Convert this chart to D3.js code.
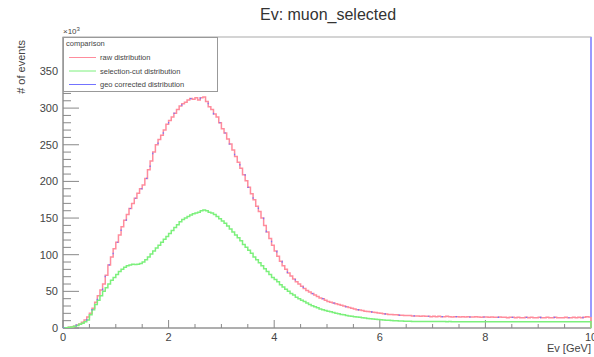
<!DOCTYPE html>
<html><head><meta charset="utf-8">
<script src="https://cdn.jsdelivr.net/npm/d3@7"></script>
<style>body{margin:0;background:#fff;}svg{display:block;font-family:"Liberation Sans",Arial,sans-serif;}</style>
</head><body><div id="chart"></div>
<script>
// bin lower edges 0.00 .. 9.95 (width 0.05 GeV), values in units of 10^3 events
const binEdges = d3.range(0, 200).map(i => +(i * 0.05).toFixed(2));
const rawValues = [
0.2,0.5,1,1.5,2.5,4,5.5,8,11,15,
20,27,35,44,52,60,72,86,97,108,
117,127,138,147,155,163,170,177,184,190,
195,204,216,228,240,250,257,263,270,278,
283,288,293,298,303,306,308,311,313,312,
314,311,314,315,309,302,298,292,288,280,
272,266,258,251,243,234,226,218,209,201,
192,183,175,166,159,150,140,131,122,113,
105,98,91,85,80,75,71,67,63,60,
57,54,51,49,47,45,43,41,40,38,
36,35,34,33,32,31,30,29,28,27,
26,25,24.5,24,23,22.5,22,21.5,21,20.5,
20,19.5,19,18.5,18.5,18,18,17.5,17.5,17,
17,17,16.5,16.5,16.5,16,16.5,16,16,15.5,
16,15.5,16,15.5,15.5,16,15.5,15,15.5,15.5,
15,15.5,15,15.5,15,15,15.5,15,14.5,15,
15,14.5,15,14.5,14.5,15,14.5,14.5,14,14.5,
14.5,14,14.5,14,14,14.5,14,14.5,14,14,
14.5,14,14,14.5,14,14,14.5,14,14,14,
14.5,14,14,14.5,14,14.5,14,14.5,15.5,15];
const selValues = [
0.2,0.5,1,1.5,2.5,3.5,5,6.5,8.5,11,
18,25,32,38,44,50,55,60,65,69,
73,77,80,83,85,86,87,86.5,87,88,
90,93,97,101,105,109,113,117,121,125,
129,133,137,141,145,148,150,152,154,156,
157,158,160,161,160,158,157,155,152,149,
146,143,139,135,131,127,123,119,114,110,
106,102,97,93,89,85,81,77,73,69,
66,63,59,56,53,50,47,45,42,40,
38,36,34,32,30.5,29,27.5,26,25,24,
23,22,21,20,19.5,18.5,18,17,16.5,16,
15.5,15,14.5,14,13.5,13,12.5,12.2,12,11.5,
11.2,11,10.7,10.5,10.2,10,9.8,9.6,9.5,9.3,
9.2,9.1,9,9,8.9,8.9,8.8,8.8,8.8,8.7,
8.7,8.7,8.7,8.7,8.7,8.6,8.7,8.6,8.6,8.6,
8.6,8.6,8.6,8.6,8.6,8.6,8.6,8.6,8.6,8.6,
8.6,8.6,8.6,8.6,8.6,8.6,8.6,8.6,8.6,8.6,
8.6,8.6,8.6,8.6,8.6,8.6,8.6,8.6,8.6,8.6,
8.6,8.6,8.6,8.6,8.6,8.6,8.6,8.6,8.6,8.6,
8.6,8.6,8.6,8.6,8.6,8.6,8.6,8.6,8.6,8.6];
const geoValues = [
0.2,0.5,1,1.5,2.5,4,5.5,8,11,15,
20,27,35,44,52,60,72,86,97,108,
117,127,138,147,155,163,170,177,184,190,
195,204,216,228,240,250,257,263,270,278,
283,288,293,298,303,306,308,311,313,312,
314,311,314,315,309,302,298,292,288,280,
272,266,258,251,243,234,226,218,209,201,
192,183,175,166,159,150,140,131,122,113,
105,98,91,85,80,75,71,67,63,60,
57,54,51,49,47,45,43,41,40,38,
36,35,34,33,32,31,30,29,28,27,
26,25,24.5,24,23,22.5,22,21.5,21,20.5,
20,19.5,19,18.5,18.5,18,18,17.5,17.5,17,
17,17,16.5,16.5,16.5,16,16.5,16,16,15.5,
16,15.5,16,15.5,15.5,16,15.5,15,15.5,15.5,
15,15.5,15,15.5,15,15,15.5,15,14.5,15,
15,14.5,15,14.5,14.5,15,14.5,14.5,14,14.5,
14.5,14,14.5,14,14,14.5,14,14.5,14,14,
14.5,14,14,14.5,14,14,14.5,14,14,14,
14.5,14,14,14.5,14,14.5,14,14.5,15.5,15];
const geoOverflow = 5000;
const seriesNames = ["raw distribution","selection-cut distribution","geo corrected distribution"];
const seriesColors = ["#ff8c9c","#7cf07c","#7373ff"];
const xTicks = [0,2,4,6,8,10];
const yTicks = [0,50,100,150,200,250,300,350];
const xDomain = [0,10];
const yDomain = [0,397];

const W = 594, H = 357;
const L = 63, R = 591, T = 37, B = 328;
const svg = d3.select("#chart").append("svg").attr("width", W).attr("height", H);
const x = d3.scaleLinear().domain(xDomain).range([L, R]);
const y = d3.scaleLinear().domain(yDomain).range([B, T]);

svg.append("defs").append("clipPath").attr("id","clip")
  .append("rect").attr("x", L).attr("y", T).attr("width", R - L + 1).attr("height", B - T);

svg.append("rect").attr("x", L).attr("y", T).attr("width", R - L).attr("height", B - T)
  .attr("fill","none").attr("stroke","#aaa").attr("stroke-width",1);

const axisColor = "#888";
const xMinor = d3.range(0, 10.01, 0.5);
svg.append("g").selectAll("line").data(xMinor).join("line")
  .attr("x1", d => x(d)).attr("x2", d => x(d))
  .attr("y1", B).attr("y2", d => Math.abs(d/2 - Math.round(d/2)) < 1e-6 ? B - 8 : B - 4)
  .attr("stroke", axisColor).attr("stroke-width", 1);
svg.append("g").selectAll("text").data(xTicks).join("text")
  .attr("x", d => x(d)).attr("y", 341).attr("text-anchor","middle")
  .attr("font-size", 11).attr("fill","#444").text(d => d);

const yMinor = d3.range(0, 391, 10);
svg.append("g").selectAll("line").data(yMinor).join("line")
  .attr("x1", L).attr("x2", d => d % 50 === 0 ? L + 16 : L + 8)
  .attr("y1", d => y(d)).attr("y2", d => y(d))
  .attr("stroke", axisColor).attr("stroke-width", 1);
svg.append("g").selectAll("text").data(yTicks).join("text")
  .attr("x", 58).attr("y", d => y(d) + 4).attr("text-anchor","end")
  .attr("font-size", 11).attr("fill","#444").text(d => d);

svg.append("line").attr("x1", L).attr("x2", R).attr("y1", B).attr("y2", B).attr("stroke", axisColor);
svg.append("line").attr("x1", L).attr("x2", L).attr("y1", T).attr("y2", B).attr("stroke", axisColor);

const ex = svg.append("text").attr("x", 63).attr("y", 34).attr("font-size", 8).attr("fill","#444");
ex.append("tspan").text("×10");
ex.append("tspan").attr("dy", -3).attr("font-size", 6).text("3");

svg.append("text").attr("x", 591).attr("y", 352).attr("text-anchor","end")
  .attr("font-size", 11).attr("fill","#444").text("Ev [GeV]");
svg.append("text").attr("transform","translate(25,40) rotate(-90)").attr("text-anchor","end")
  .attr("font-size", 11).attr("fill","#444").text("# of events");

svg.append("text").attr("x", 328).attr("y", 20).attr("text-anchor","middle")
  .attr("font-size", 16).attr("fill","#333").text("Ev: muon_selected");

const line = d3.line().x(d => x(d[0])).y(d => y(d[1])).curve(d3.curveStepAfter);
function pts(vals, endVal) {
  const p = [[0, 0]];
  binEdges.forEach((e, i) => p.push([e, vals[i]]));
  p.push([10, endVal]);
  return p;
}
const n = binEdges.length - 1;
const g = svg.append("g").attr("clip-path","url(#clip)");
g.append("path").attr("d", line(pts(rawValues, rawValues[n]).concat([[10, 0]])))
  .attr("fill","none").attr("stroke", seriesColors[0]).attr("stroke-width", 1.5);
g.append("path").attr("d", line(pts(selValues, selValues[n]).concat([[10, 0]])))
  .attr("fill","none").attr("stroke", seriesColors[1]).attr("stroke-width", 1.5);
g.append("path").attr("d", line(pts(geoValues, geoValues[n]).concat([[10, geoOverflow]])))
  .attr("fill","none").attr("stroke", seriesColors[2]).attr("stroke-width", 1.2)
  .attr("stroke-dasharray","1.5,14");
g.append("line").attr("x1", x(10)).attr("x2", x(10)).attr("y1", y(geoValues[n])).attr("y2", y(geoOverflow))
  .attr("stroke", "#9a9aff").attr("stroke-width", 2);

const lg = svg.append("g");
lg.append("rect").attr("x", 63.5).attr("y", 37.5).attr("width", 154).attr("height", 54)
  .attr("fill","#fff").attr("stroke","#999");
lg.append("text").attr("x", 66).attr("y", 46).attr("font-size", 7.5).attr("fill","#444").text("comparison");
seriesNames.forEach((s, i) => {
  const yy = 57.5 + i * 13.5;
  lg.append("line").attr("x1", 69).attr("x2", 96).attr("y1", yy).attr("y2", yy)
    .attr("stroke", seriesColors[i]).attr("stroke-width", 1);
  lg.append("text").attr("x", 100).attr("y", yy + 2.5).attr("font-size", 7.5).attr("fill","#444").text(s);
});
</script></body></html>
